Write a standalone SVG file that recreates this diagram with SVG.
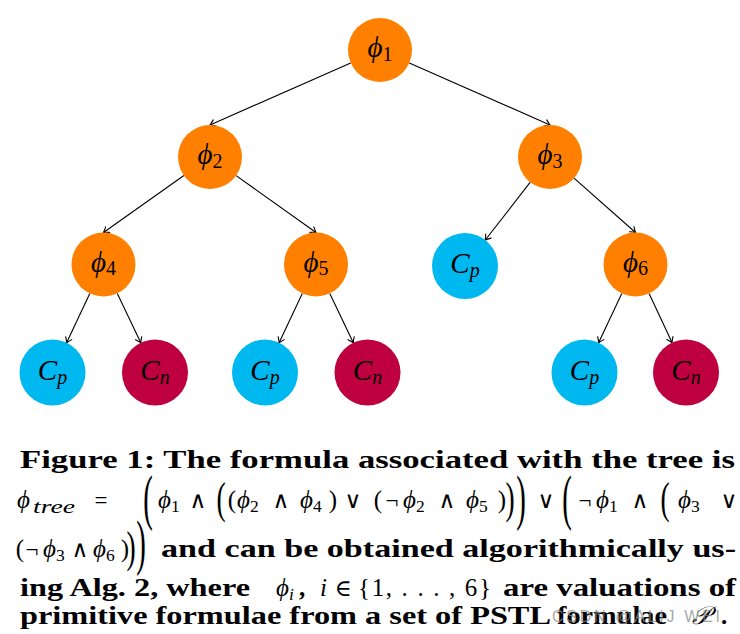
<svg xmlns="http://www.w3.org/2000/svg" width="740" height="634" viewBox="0 0 740 634">
<style>
.o{fill:#FF8000}
.cp{fill:#00B8F0}
.cn{fill:#BF0040}
.lb{font-family:"Liberation Serif","DejaVu Serif",serif;font-style:italic;font-size:29px;fill:#000}
.ls{font-style:normal;font-size:20px}
.li{font-style:italic;font-size:20px}
.e{stroke:#000;stroke-width:1.1;fill:none;marker-end:url(#ah)}
.cap{font-family:"Liberation Serif","DejaVu Serif",serif;font-weight:bold;font-size:25px;fill:#000}
.mi{font-family:"Liberation Serif","DejaVu Serif",serif;font-style:italic;font-size:25px;fill:#000}
.sd{font-style:normal;font-size:17.5px}
.si{font-style:italic;font-size:17.5px}
.op{font-family:"Liberation Serif","DejaVu Serif",serif;font-size:23px;fill:#000;text-anchor:middle}
.pr{font-family:"Liberation Serif","DejaVu Serif",serif;font-size:25px;fill:#000;text-anchor:middle}
.wm{font-family:"Liberation Sans",Arial,sans-serif;font-size:16px;fill:#8a8a8a;fill-opacity:0.75}
</style>
<defs>
<marker id="ah" markerWidth="7" markerHeight="10" viewBox="-6 -5 7 10" refX="0" refY="0" orient="auto" markerUnits="userSpaceOnUse">
<path d="M-5,-3.4 Q-1.8,-0.9 0,0 Q-1.8,0.9 -5,3.4" fill="none" stroke="#000" stroke-width="1.1" stroke-linecap="round"/>
</marker>
</defs>
<rect width="740" height="634" fill="#fff"/>
<g id="connectors">
<path class="e" d="M350.7,62.9 L210,125"/>
<path class="e" d="M409.3,62.9 L550,125"/>
<path class="e" d="M183.9,175.5 L103.5,232.5"/>
<path class="e" d="M236.1,175.6 L316,232.5"/>
<path class="e" d="M530.3,182.2 L485.3,240"/>
<path class="e" d="M574,178.2 L635.5,232.5"/>
<path class="e" d="M89.8,293.4 L66.6,342.7"/>
<path class="e" d="M117.3,293.4 L140.8,342.7"/>
<path class="e" d="M302.3,293.4 L279.1,342.7"/>
<path class="e" d="M329.8,293.4 L353.3,342.7"/>
<path class="e" d="M621.8,293.4 L598.6,342.7"/>
<path class="e" d="M649.1,293.5 L672,342.6"/>
</g>
<g id="phi1"><circle class="o" cx="380" cy="50" r="32"/><text class="lb" x="380" y="57" text-anchor="middle">ϕ<tspan class="ls" dy="3.5">1</tspan></text></g>
<g id="phi2"><circle class="o" cx="210" cy="157" r="32"/><text class="lb" x="210" y="164" text-anchor="middle">ϕ<tspan class="ls" dy="3.5">2</tspan></text></g>
<g id="phi3"><circle class="o" cx="550" cy="157" r="32"/><text class="lb" x="550" y="164" text-anchor="middle">ϕ<tspan class="ls" dy="3.5">3</tspan></text></g>
<g id="phi4"><circle class="o" cx="103.5" cy="264.5" r="32"/><text class="lb" x="103.5" y="271.5" text-anchor="middle">ϕ<tspan class="ls" dy="3.5">4</tspan></text></g>
<g id="phi5"><circle class="o" cx="316" cy="264.5" r="32"/><text class="lb" x="316" y="271.5" text-anchor="middle">ϕ<tspan class="ls" dy="3.5">5</tspan></text></g>
<g id="phi6"><circle class="o" cx="635.5" cy="264.5" r="32"/><text class="lb" x="635.5" y="271.5" text-anchor="middle">ϕ<tspan class="ls" dy="3.5">6</tspan></text></g>
<g id="cp3"><circle class="cp" cx="465" cy="266" r="33"/><text class="lb" x="465" y="273" text-anchor="middle">C<tspan class="li" dy="4">p</tspan></text></g>
<g id="cp4"><circle class="cp" cx="52.5" cy="372.5" r="33"/><text class="lb" x="52.5" y="380" text-anchor="middle">C<tspan class="li" dy="4">p</tspan></text></g>
<g id="cn4"><circle class="cn" cx="155" cy="372.5" r="33"/><text class="lb" x="155" y="380" text-anchor="middle">C<tspan class="li" dy="4">n</tspan></text></g>
<g id="cp5"><circle class="cp" cx="265" cy="372.5" r="33"/><text class="lb" x="265" y="380" text-anchor="middle">C<tspan class="li" dy="4">p</tspan></text></g>
<g id="cn5"><circle class="cn" cx="367.5" cy="372.5" r="33"/><text class="lb" x="367.5" y="380" text-anchor="middle">C<tspan class="li" dy="4">n</tspan></text></g>
<g id="cp6"><circle class="cp" cx="584.5" cy="372.5" r="33"/><text class="lb" x="584.5" y="380" text-anchor="middle">C<tspan class="li" dy="4">p</tspan></text></g>
<g id="cn6"><circle class="cn" cx="686" cy="372.5" r="33"/><text class="lb" x="686" y="380" text-anchor="middle">C<tspan class="li" dy="4">n</tspan></text></g>
<g id="caption">
<text class="cap" x="20" y="468" textLength="715" lengthAdjust="spacingAndGlyphs">Figure 1: The formula associated with the tree is</text>
<text class="mi" x="17" y="508">ϕ</text>
<text class="mi si" x="33" y="513" style="font-size:19px" textLength="42" lengthAdjust="spacingAndGlyphs">tree</text>
<text class="op" x="101" y="508">=</text>
<text class="pr" transform="translate(148,504.5) scale(1.15,2.45)" y="5.5">(</text>
<text class="mi" x="158" y="508">ϕ<tspan class="sd" dy="4">1</tspan></text>
<text class="op" x="198" y="508">∧</text>
<text class="pr" transform="translate(221,503.5) scale(1.1,1.75)" y="5.5">(</text>
<text class="pr" x="232" y="508">(</text>
<text class="mi" x="237" y="508">ϕ<tspan class="sd" dy="4">2</tspan></text>
<text class="op" x="281" y="508">∧</text>
<text class="mi" x="300" y="508">ϕ<tspan class="sd" dy="4">4</tspan></text>
<text class="pr" x="333" y="508">)</text>
<text class="op" x="353" y="508">∨</text>
<text class="pr" x="378" y="508">(</text>
<text class="op" x="392" y="508">¬</text>
<text class="mi" x="403" y="508">ϕ<tspan class="sd" dy="4">2</tspan></text>
<text class="op" x="447" y="508">∧</text>
<text class="mi" x="466" y="508">ϕ<tspan class="sd" dy="4">5</tspan></text>
<text class="pr" x="502" y="508">)</text>
<text class="pr" transform="translate(510,503.5) scale(1.1,1.75)" y="5.5">)</text>
<text class="pr" transform="translate(521,504.5) scale(1.15,2.45)" y="5.5">)</text>
<text class="op" x="546" y="508">∨</text>
<text class="pr" transform="translate(567,504.5) scale(1.15,2.45)" y="5.5">(</text>
<text class="op" x="585" y="508">¬</text>
<text class="mi" x="596" y="508">ϕ<tspan class="sd" dy="4">1</tspan></text>
<text class="op" x="640" y="508">∧</text>
<text class="pr" transform="translate(665,503.5) scale(1.1,1.75)" y="5.5">(</text>
<text class="mi" x="678" y="508">ϕ<tspan class="sd" dy="4">3</tspan></text>
<text class="op" x="729" y="508">∨</text>
<text class="pr" x="20" y="557">(</text>
<text class="op" x="32" y="557">¬</text>
<text class="mi" x="43" y="557">ϕ<tspan class="sd" dy="4">3</tspan></text>
<text class="op" x="80" y="557">∧</text>
<text class="mi" x="93" y="557">ϕ<tspan class="sd" dy="4">6</tspan></text>
<text class="pr" x="125" y="557">)</text>
<text class="pr" transform="translate(131,552.5) scale(1.1,1.75)" y="5.5">)</text>
<text class="pr" transform="translate(141,550) scale(1.15,2.45)" y="5.5">)</text>
<text class="cap" x="161" y="557" textLength="575" lengthAdjust="spacingAndGlyphs">and can be obtained algorithmically us-</text>
<text class="cap" x="20" y="596" textLength="230" lengthAdjust="spacingAndGlyphs">ing Alg. 2, where</text>
<text class="mi" x="276" y="596">ϕ<tspan class="si" dy="4">i</tspan></text>
<text class="cap" x="299" y="596">,</text>
<text class="mi" x="320" y="596">i</text>
<text class="op" x="343" y="596">∈</text>
<text class="pr" x="358" y="596" style="text-anchor:start" textLength="133" lengthAdjust="spacing">{1, . . . , 6}</text>
<text class="cap" x="503" y="596" textLength="233" lengthAdjust="spacingAndGlyphs">are valuations of</text>
<text class="cap" x="20" y="624" textLength="531" lengthAdjust="spacingAndGlyphs">primitive formulae from a set of PSTL</text>
<text class="cap" x="557" y="624" textLength="110" lengthAdjust="spacingAndGlyphs">formulae</text>
<text class="mi" x="692" y="624">𝒫</text>
<text class="cap" x="721" y="624">.</text>
<text class="wm" x="552" y="622" textLength="168" lengthAdjust="spacing">CSDN @ALIJ WEI</text>
</g>
</svg>
